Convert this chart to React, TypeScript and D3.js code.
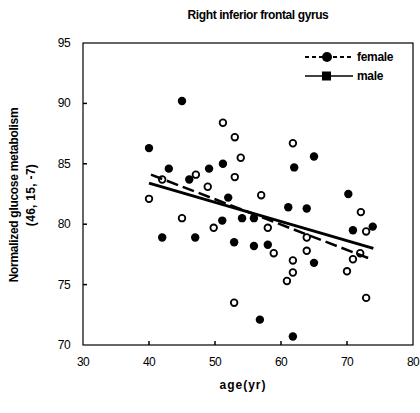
import React from "react";
import * as d3 from "d3";

const femaleAge = [40.0, 42.0, 43.0, 45.0, 46.1, 47.0, 49.1, 51.1, 51.2, 52.0, 52.9, 54.1, 55.9, 55.9, 56.8, 58.0, 61.1, 61.8, 62.0, 63.9, 65.0, 65.0, 70.2, 70.9, 73.9];
const femaleValue = [86.3, 78.9, 84.6, 90.2, 83.7, 78.9, 84.6, 80.3, 85.0, 82.2, 78.5, 80.5, 80.5, 78.2, 72.1, 78.3, 81.4, 70.7, 84.7, 81.3, 85.6, 76.8, 82.5, 79.5, 79.8];
const maleAge = [40.0, 42.0, 45.0, 47.1, 48.9, 49.8, 51.2, 52.9, 53.0, 53.0, 53.9, 57.0, 58.0, 58.9, 60.9, 61.8, 61.8, 61.8, 63.9, 63.9, 70.0, 70.9, 72.0, 72.1, 72.9, 72.9];
const maleValue = [82.1, 83.7, 80.5, 84.1, 83.1, 79.7, 88.4, 73.5, 87.2, 83.9, 85.5, 82.4, 79.7, 77.6, 75.3, 86.7, 77.0, 76.0, 78.9, 77.8, 76.1, 77.1, 77.6, 81.0, 79.4, 73.9];
const femaleFitAge = [40.3, 73.2];
const femaleFitValue = [84.1, 77.2];
const maleFitAge = [40.0, 74.0];
const maleFitValue = [83.4, 78.0];
const xTicks = [30, 40, 50, 60, 70, 80];
const yTicks = [70, 75, 80, 85, 90, 95];

const FONT = "'Liberation Sans', Arial, sans-serif";

export default function App() {
  const L = 83, R = 413, T = 43, B = 345;
  const x = d3.scaleLinear().domain([30, 80]).range([L, R]);
  const y = d3.scaleLinear().domain([70, 95]).range([B, T]);
  const line = d3.line<[number, number]>().x(d => x(d[0])).y(d => y(d[1]));
  const fFit: [number, number][] = femaleFitAge.map((a, i) => [a, femaleFitValue[i]]);
  const mFit: [number, number][] = maleFitAge.map((a, i) => [a, maleFitValue[i]]);

  return (
    <svg width={420} height={413} style={{ position: "absolute", left: 0, top: 0, background: "#fff" }} fontFamily={FONT}>
      <rect x={0} y={0} width={420} height={413} fill="#fff" />
      <text x={258} y={19} textAnchor="middle" fontSize={12} fontWeight="bold" letterSpacing={-0.4}>Right inferior frontal gyrus</text>
      <rect x={L} y={T} width={R - L} height={B - T} fill="none" stroke="#000" strokeWidth={1.2} />
      {xTicks.slice(1, -1).map(t => (
        <line key={"xt" + t} x1={x(t)} x2={x(t)} y1={B} y2={B - 4} stroke="#000" strokeWidth={1.5} />
      ))}
      {yTicks.slice(1, -1).map(t => (
        <line key={"yt" + t} x1={L} x2={L + 4} y1={y(t)} y2={y(t)} stroke="#000" strokeWidth={1.5} />
      ))}
      {xTicks.map(t => (
        <text key={"xl" + t} x={x(t)} y={366} textAnchor="middle" fontSize={12} letterSpacing={-0.6}>{t}</text>
      ))}
      {yTicks.map(t => (
        <text key={"yl" + t} x={70} y={y(t) + 4} textAnchor="end" fontSize={12} letterSpacing={-0.6}>{t}</text>
      ))}
      <text x={243} y={389} textAnchor="middle" fontSize={12} fontWeight="bold" letterSpacing={1}>age(yr)</text>
      <g transform="translate(18,195) rotate(-90)">
        <text x={0} y={0} textAnchor="middle" fontSize={12} fontWeight="bold" letterSpacing={-0.3}>Normalized glucose metabolism</text>
        <text x={0} y={17} textAnchor="middle" fontSize={12} fontWeight="bold" letterSpacing={0.3}>(46, 15, -7)</text>
      </g>
      {maleAge.map((a, i) => (
        <circle key={"m" + i} cx={x(a)} cy={y(maleValue[i])} r={3.3} fill="#fff" stroke="#000" strokeWidth={1.8} />
      ))}
      {femaleAge.map((a, i) => (
        <circle key={"f" + i} cx={x(a)} cy={y(femaleValue[i])} r={4.2} fill="#000" />
      ))}
      <path d={line(mFit) || ""} fill="none" stroke="#000" strokeWidth={3} />
      <path d={line(fFit) || ""} fill="none" stroke="#000" strokeWidth={2.5} strokeDasharray="12,5" />
      <g>
        <line x1={305} x2={353} y1={57} y2={57} stroke="#000" strokeWidth={2} strokeDasharray="4,3" />
        <circle cx={327} cy={57} r={5} fill="#000" />
        <text x={357} y={61} fontSize={12} fontWeight="bold" letterSpacing={-0.3}>female</text>
        <line x1={305} x2={353} y1={76} y2={76} stroke="#000" strokeWidth={1.5} />
        <rect x={322} y={71.5} width={9} height={9} fill="#000" />
        <text x={357} y={80} fontSize={12} fontWeight="bold" letterSpacing={-0.3}>male</text>
      </g>
    </svg>
  );
}
